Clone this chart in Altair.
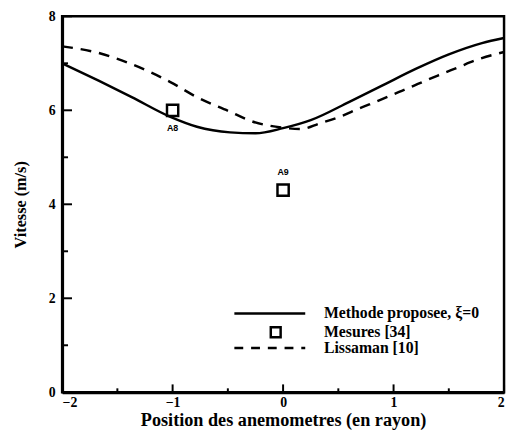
import altair as alt
import pandas as pd

# Methode proposee (solid)
solid_x = [-2.0, -1.67, -1.37, -1.02, -0.78, -0.48, -0.25, 0.0, 0.25, 0.6, 0.9, 1.2, 1.5, 1.8, 2.0]
solid_y = [7.00, 6.63, 6.28, 5.86, 5.65, 5.53, 5.51, 5.62, 5.79, 6.18, 6.53, 6.88, 7.19, 7.43, 7.54]

# Lissaman (dashed)
dash_x = [-2.0, -1.67, -1.37, -1.02, -0.78, -0.48, -0.3, 0.0, 0.16, 0.33, 0.51, 0.69, 0.87, 1.05, 1.22, 1.40, 1.58, 1.76, 2.0]
dash_y = [7.36, 7.22, 6.98, 6.60, 6.28, 5.97, 5.78, 5.63, 5.60, 5.72, 5.86, 6.04, 6.21, 6.39, 6.56, 6.74, 6.91, 7.08, 7.24]

# Mesures
meas_x = [-1.0, 0.0]
meas_y = [6.0, 4.3]
meas_lab = ["A8", "A9"]
lab_y = [5.62, 4.68]

x_ticks = [-2, -1, 0, 1, 2]
x_minor = [-1.5, -0.5, 0.5, 1.5]
y_ticks = [0, 2, 4, 6, 8]
y_minor = [1, 3, 5, 7]

legend_labels = ["Methode proposee, \u03be=0", "Mesures [34]", "Lissaman [10]"]

W, H = 449, 382
FONT = "Liberation Serif, Times New Roman, serif"

xs = alt.Scale(domain=[-2, 2], nice=False, zero=False)
ys = alt.Scale(domain=[0, 8], nice=False, zero=False)

solid_df = pd.DataFrame({"x": solid_x, "y": solid_y})
dash_df = pd.DataFrame({"x": dash_x, "y": dash_y})
meas_df = pd.DataFrame({"x": meas_x, "y": meas_y, "lab": meas_lab, "ly": lab_y})

xaxis = alt.Axis(values=x_ticks, ticks=False, grid=False, labelPadding=3,
                 labelFont=FONT, labelFontSize=14, labelFontWeight="bold", labelColor="black",
                 title="Position des anemometres (en rayon)", titleFont=FONT, titleFontSize=18.5,
                 titleFontWeight="bold", titleColor="black", titlePadding=2,
                 domainColor="black", domainWidth=3, format="d")
yaxis = alt.Axis(values=y_ticks, ticks=False, grid=False, labelPadding=7,
                 labelFont=FONT, labelFontSize=14, labelFontWeight="bold", labelColor="black",
                 title="Vitesse (m/s)", titleFont=FONT, titleFontSize=16.5,
                 titleFontWeight="bold", titleColor="black", titlePadding=20,
                 domainColor="black", domainWidth=3, format="d")

base_solid = alt.Chart(solid_df).mark_line(color="black", strokeWidth=2.5, interpolate="monotone").encode(
    x=alt.X("x:Q", scale=xs, axis=xaxis),
    y=alt.Y("y:Q", scale=ys, axis=yaxis),
)
dashed = alt.Chart(dash_df).mark_line(color="black", strokeWidth=2.5, strokeDash=[11, 8], interpolate="monotone").encode(
    x=alt.X("x:Q", scale=xs), y=alt.Y("y:Q", scale=ys)
)
points = alt.Chart(meas_df).mark_point(shape="square", size=130, filled=False, color="black", strokeWidth=2.5, opacity=1).encode(
    x=alt.X("x:Q", scale=xs), y=alt.Y("y:Q", scale=ys)
)
labels = alt.Chart(meas_df).mark_text(font="Liberation Sans", fontSize=9, fontWeight="bold", color="black").encode(
    x=alt.X("x:Q", scale=xs), y=alt.Y("ly:Q", scale=ys), text="lab:N"
)

# inward ticks
ymaj = alt.Chart(pd.DataFrame({"v": y_ticks})).mark_rule(color="black", strokeWidth=2).encode(
    y=alt.Y("v:Q", scale=ys), x=alt.value(0), x2=alt.value(10))
ymin = alt.Chart(pd.DataFrame({"v": y_minor})).mark_rule(color="black", strokeWidth=2).encode(
    y=alt.Y("v:Q", scale=ys), x=alt.value(0), x2=alt.value(6))
xmaj = alt.Chart(pd.DataFrame({"v": x_ticks})).mark_rule(color="black", strokeWidth=2).encode(
    x=alt.X("v:Q", scale=xs), y=alt.value(H), y2=alt.value(H - 8))
xmin = alt.Chart(pd.DataFrame({"v": x_minor})).mark_rule(color="black", strokeWidth=2).encode(
    x=alt.X("v:Q", scale=xs), y=alt.value(H), y2=alt.value(H - 4))

# legend
leg_solid = alt.Chart(pd.DataFrame({"a": [0]})).mark_rule(color="black", strokeWidth=2.5).encode(
    x=alt.value(175), x2=alt.value(247), y=alt.value(302))
leg_sq = alt.Chart(pd.DataFrame({"a": [0]})).mark_point(shape="square", size=100, filled=False, color="black", strokeWidth=2.5, opacity=1).encode(
    x=alt.value(217), y=alt.value(321))
leg_dash = alt.Chart(pd.DataFrame({"a": [0]})).mark_rule(color="black", strokeWidth=2.5, strokeDash=[9, 8]).encode(
    x=alt.value(175), x2=alt.value(247), y=alt.value(337))
leg_text = alt.Chart(pd.DataFrame({"t": legend_labels, "py": [302, 321, 337]})).mark_text(
    font=FONT, fontSize=16, fontWeight="bold", color="black", align="left", baseline="middle").encode(
    x=alt.value(266), y=alt.Y("py:Q", scale=None), text="t:N")

chart = alt.layer(base_solid, dashed, points, labels, ymaj, ymin, xmaj, xmin,
                  leg_solid, leg_sq, leg_dash, leg_text).properties(
    width=W, height=H,
    autosize=alt.AutoSizeParams(type="none"),
    padding={"left": 55, "top": 5, "right": 3, "bottom": 41},
    background="white",
).configure_view(stroke="black", strokeWidth=2.5)

chart.save("out.html", embed_options={"renderer": "svg", "actions": False})
